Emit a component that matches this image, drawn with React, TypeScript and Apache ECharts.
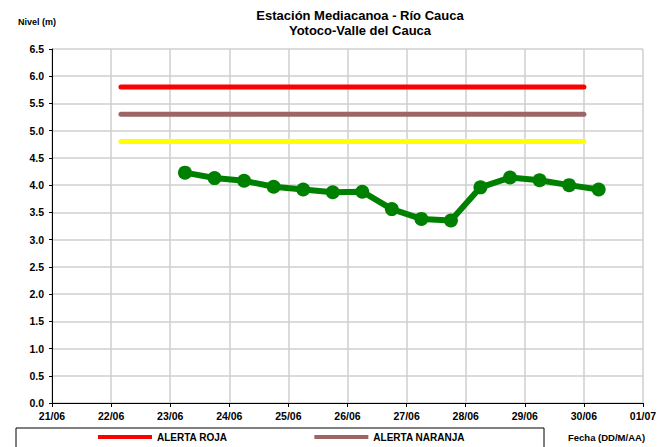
import React, { useEffect, useRef } from "react";
import * as echarts from "echarts";

const xTickLabels = ["21/06", "22/06", "23/06", "24/06", "25/06", "26/06", "27/06", "28/06", "29/06", "30/06", "01/07"];
const startTime = "2021-06-21T00:00";

const levelTimes = [
  "2021-06-23T06:00", "2021-06-23T18:00", "2021-06-24T06:00", "2021-06-24T18:00",
  "2021-06-25T06:00", "2021-06-25T18:00", "2021-06-26T06:00", "2021-06-26T18:00",
  "2021-06-27T06:00", "2021-06-27T18:00", "2021-06-28T06:00", "2021-06-28T18:00",
  "2021-06-29T06:00", "2021-06-29T18:00", "2021-06-30T06:00",
];
const levelValues = [4.23, 4.13, 4.08, 3.97, 3.92, 3.87, 3.88, 3.56, 3.38, 3.35, 3.96, 4.14, 4.09, 4.0, 3.92];

const alertTimes = ["2021-06-22T04:00", "2021-06-30T00:00"];
const alertRoja = [5.8, 5.8];
const alertNaranja = [5.3, 5.3];
const alertAmarilla = [4.8, 4.8];

const yTicks = { min: 0, max: 6.5, interval: 0.5 };

const FONT = "'Liberation Sans', Arial, sans-serif";

function dayOffset(s: string): number {
  const t = new Date(s + ":00Z").getTime();
  const t0 = new Date(startTime + ":00Z").getTime();
  return (t - t0) / 86400000;
}

function pairs(times: string[], vals: number[]) {
  return times.map((t, i) => [dayOffset(t), vals[i]]);
}

export default function App() {
  const ref = useRef<HTMLDivElement>(null);
  useEffect(() => {
    if (!ref.current) return;
    const chart = echarts.init(ref.current, null, { renderer: "svg" });
    const alertLine = (name: string, color: string, vals: number[]) => ({
      name,
      type: "line",
      data: pairs(alertTimes, vals),
      symbol: "none",
      lineStyle: { color, width: 5, cap: "round" },
      itemStyle: { color },
      z: 3,
    });
    chart.setOption({
      animation: false,
      backgroundColor: "#ffffff",
      textStyle: { fontFamily: FONT },
      title: {
        text: "Estación Mediacanoa - Río Cauca\nYotoco-Valle del Cauca",
        left: 355,
        top: 3,
        textAlign: "center",
        textStyle: { fontFamily: FONT, fontSize: 13, fontWeight: "bold", color: "#000", lineHeight: 15 },
      },
      grid: { left: 52, right: 24, top: 49, bottom: 44, containLabel: false },
      xAxis: {
        type: "value",
        min: 0,
        max: xTickLabels.length - 1,
        interval: 1,
        axisLine: { show: true, onZero: false, lineStyle: { color: "#000", width: 1 } },
        axisTick: { show: true, length: 4, lineStyle: { color: "#000" } },
        axisLabel: {
          formatter: (v: number) => xTickLabels[Math.round(v)] ?? "",
          fontFamily: FONT,
          fontSize: 10.5,
          fontWeight: "bold",
          color: "#000",
          margin: 7,
        },
        splitLine: { show: true, lineStyle: { color: "#cfcfcf", width: 1.5 } },
      },
      yAxis: {
        type: "value",
        min: yTicks.min,
        max: yTicks.max,
        interval: yTicks.interval,
        axisLine: { show: true, lineStyle: { color: "#000", width: 1 } },
        axisTick: { show: true, length: 3, lineStyle: { color: "#000" } },
        axisLabel: {
          formatter: (v: number) => v.toFixed(1),
          fontFamily: FONT,
          fontSize: 10.5,
          fontWeight: "bold",
          color: "#000",
          margin: 8,
        },
        splitLine: { show: true, lineStyle: { color: "#cfcfcf", width: 1.5 } },
      },
      legend: {
        data: ["ALERTA ROJA", "ALERTA NARANJA"],
        left: 98,
        top: 432,
        itemWidth: 54,
        itemHeight: 4,
        itemGap: 87,
        icon: "rect",
        textStyle: { fontFamily: FONT, fontSize: 10, fontWeight: "bold", color: "#000" },
        padding: 0,
      },
      graphic: [
        {
          type: "rect",
          shape: { x: 16, y: 428, width: 528, height: 40 },
          style: { fill: "none", stroke: "#000", lineWidth: 1 },
          silent: true,
        },
        {
          type: "text",
          x: 18,
          y: 17,
          style: { text: "Nivel (m)", fontFamily: FONT, fontSize: 9, fontWeight: "bold", fill: "#000" },
        },
        {
          type: "text",
          x: 568,
          y: 432,
          style: { text: "Fecha (DD/M/AA)", fontFamily: FONT, fontSize: 9.5, fontWeight: "bold", fill: "#000" },
        },
      ],
      series: [
        alertLine("ALERTA ROJA", "#ff0000", alertRoja),
        alertLine("ALERTA NARANJA", "#9c6666", alertNaranja),
        alertLine("ALERTA AMARILLA", "#ffff00", alertAmarilla),
        {
          name: "Nivel",
          type: "line",
          data: pairs(levelTimes, levelValues),
          symbol: "circle",
          symbolSize: 14,
          lineStyle: { color: "#008000", width: 6 },
          itemStyle: { color: "#008000" },
          z: 4,
        },
      ],
    });
    return () => chart.dispose();
  }, []);
  return <div ref={ref} style={{ width: 667, height: 447, position: "absolute", left: 0, top: 0 }} />;
}
